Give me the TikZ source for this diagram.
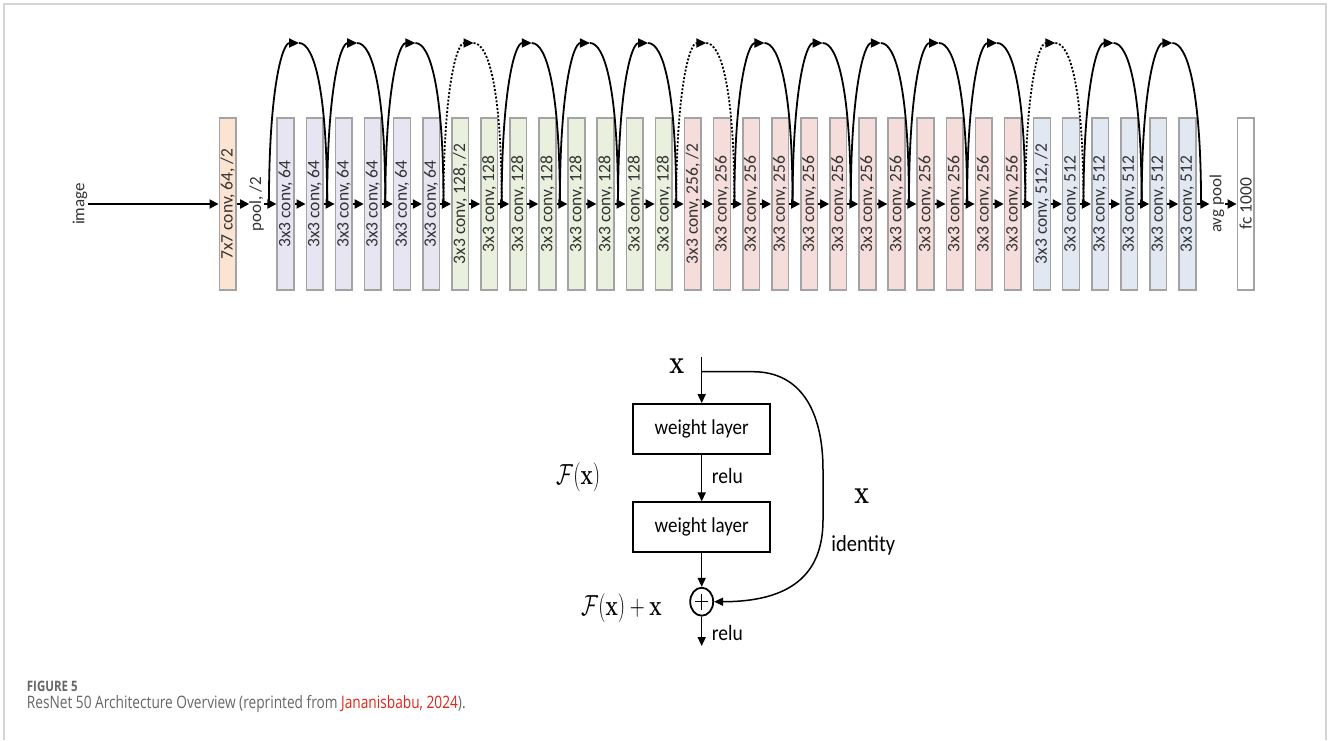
\documentclass[tikz,border=0pt]{standalone}
\usepackage[no-math]{fontspec}
\setmainfont{Carlito}
\newfontfamily\capfont{Open Sans}
\usetikzlibrary{arrows.meta,calc,shapes.geometric}
\definecolor{cseven}{HTML}{FBE4D2}
\definecolor{csixfour}{HTML}{E7E5F1}
\definecolor{conetwo}{HTML}{E9F0DD}
\definecolor{ctwofive}{HTML}{F4DDDB}
\definecolor{cfiveone}{HTML}{E2E8F2}
\definecolor{bord}{HTML}{A3A3A3}
\definecolor{txtg}{HTML}{333333}
\definecolor{framec}{HTML}{D4D4D4}
\definecolor{capgray}{HTML}{666666}
\definecolor{capred}{HTML}{E2231A}
\begin{document}
\begin{tikzpicture}[x=1pt,y=-1pt,
  blk/.style={draw=bord,line width=1.6pt,minimum width=16.7pt,minimum height=171.7pt,inner sep=0pt,text=txtg,font=\fontsize{17.5}{19}\selectfont},
  lbl/.style={inner sep=0pt,text=txtg,font=\fontsize{17}{19}\selectfont},
  arr/.style={line width=1.8pt,-{Triangle[length=9pt,width=9pt]}},
  skiparc/.style={line width=1.8pt},
  skipdot/.style={line width=1.8pt,dash pattern=on 2pt off 1.8pt},
  tiparc/.style={-{Triangle[length=10pt,width=9pt]}},
  wbox/.style={draw,line width=1.8pt,minimum width=136.7pt,minimum height=50pt,inner sep=0pt,font=\fontsize{19}{21}\selectfont},
  varr/.style={line width=1.5pt,-{Triangle[length=9pt,width=8pt]}},
  txt/.style={inner sep=0pt,font=\fontsize{19.5}{21}\selectfont},
  mth/.style={inner sep=0pt}
]
\useasboundingbox (0,0) rectangle (1330,740);
\fill[white] (0,0) rectangle (1330,740);
\draw[framec,line width=1.8pt] (4,740) -- (4,4) -- (1326,4) -- (1326,740);

% ---------- top network ----------
\node[lbl] (img) at (80,204) {\rotatebox{90}{image}};
\node[blk,fill=cseven] (c7) at (227.7,204) {\rotatebox{90}{7x7 conv, 64, /2}};
\node[lbl] (pool) at (256.7,204) {\rotatebox{90}{pool, /2}};

\node[blk,fill=csixfour] (b0) at (285.6,204) {\rotatebox{90}{3x3 conv, 64}};
\foreach \i in {1,...,5}
  \node[blk,fill=csixfour] (b\i) at ({285.6+29.09*\i},204) {\rotatebox{90}{3x3 conv, 64}};
\node[blk,fill=conetwo] (b6) at ({285.6+29.09*6},204) {\rotatebox{90}{3x3 conv, 128, /2}};
\foreach \i in {7,...,13}
  \node[blk,fill=conetwo] (b\i) at ({285.6+29.09*\i},204) {\rotatebox{90}{3x3 conv, 128}};
\node[blk,fill=ctwofive] (b14) at ({285.6+29.09*14},204) {\rotatebox{90}{3x3 conv, 256, /2}};
\foreach \i in {15,...,25}
  \node[blk,fill=ctwofive] (b\i) at ({285.6+29.09*\i},204) {\rotatebox{90}{3x3 conv, 256}};
\node[blk,fill=cfiveone] (b26) at ({285.6+29.09*26},204) {\rotatebox{90}{3x3 conv, 512, /2}};
\foreach \i in {27,...,31}
  \node[blk,fill=cfiveone] (b\i) at ({285.6+29.09*\i},204) {\rotatebox{90}{3x3 conv, 512}};

\node[lbl] (avg) at (1217,204) {\rotatebox{90}{avg pool}};
\node[blk,fill=white] (fc) at (1245.7,204) {\rotatebox{90}{fc 1000}};

\draw[arr] (img.east) -- (c7.west);
\draw[arr] (c7.east) -- (pool.west);
\draw[arr] (pool.east) -- (b0.west);
\foreach \i [evaluate=\i as \j using int(\i+1)] in {0,...,30}
  \draw[arr] (b\i.east) -- (b\j.west);
\draw[arr] (b31.east) -- (avg.west);
\draw[arr] (avg.east) -- (fc.west);

% skip connection anchor points
\foreach \i in {0,...,31}
  \coordinate (g\i) at ($(b\i.west)+(-7.5,0)$);
\coordinate (g32) at ($(b31.east)+(4.5,0)$);

\foreach \k/\st in {0/skiparc,1/skiparc,2/skiparc,3/skipdot,4/skiparc,5/skiparc,6/skiparc,7/skipdot,8/skiparc,9/skiparc,10/skiparc,11/skiparc,12/skiparc,13/skipdot,14/skiparc,15/skiparc}{
  \pgfmathtruncatemacro{\ga}{2*\k}
  \pgfmathtruncatemacro{\gb}{2*\k+2}
  \coordinate (t\k) at ($(g\ga)!0.5!(g\gb)+(1,-161)$);
  \draw[\st,tiparc] (g\ga) .. controls +(0,-114) and +(-17,0) .. (t\k);
  \draw[\st] (t\k) .. controls +(15,0) and +(0,-114) .. (g\gb);
}

% ---------- residual block ----------
\node[mth] (xin) at (676.7,366) {\scalebox{1}[1.33]{\fontsize{23}{23}\selectfont$\mathbf{x}$}};
\coordinate (p0) at (701.7,356.7);
\coordinate (br) at (701.7,371.7);
\node[wbox] (w1) at (701.7,429) {\scalebox{1}[1.12]{weight layer}};
\node[wbox] (w2) at (701.7,527.3) {\scalebox{1}[1.12]{weight layer}};
\node[ellipse,draw,line width=1.8pt,minimum width=23pt,minimum height=28pt,inner sep=0pt] (plus) at (701.7,601.7) {};
\draw[line width=1.4pt] ($(plus.center)+(-6.5,0)$) -- ($(plus.center)+(6.5,0)$);
\draw[line width=1.4pt] ($(plus.center)+(0,-8)$) -- ($(plus.center)+(0,8)$);
\coordinate (pend) at (701.7,646);

\draw[varr] (p0) -- (w1.north);
\draw[varr] (w1.south) -- (w2.north);
\draw[varr] (w2.south) -- (plus.north);
\draw[varr] (plus.south) -- (pend);
\draw[varr] (br) -- (753,371.7) .. controls (800,371.7) and (823,410) .. (823,470) -- (823,520) .. controls (823,575) and (790,601.7) .. (plus.east);

\node[txt,anchor=west] (relu1) at (711.7,476) {\scalebox{1}[1.12]{relu}};
\node[txt,anchor=west] (relu2) at (711.7,633) {\scalebox{1}[1.12]{relu}};
\node[mth] (fx) at (578.3,477) {\scalebox{1}[1.4]{\fontsize{22.5}{22.5}\selectfont$\mathcal{F}(\mathbf{x})$}};
\node[mth] (fxx) at (621.5,608) {\scalebox{1}[1.4]{\fontsize{22.5}{22.5}\selectfont$\mathcal{F}(\mathbf{x})+\mathbf{x}$}};
\node[mth] (xid) at (861.7,496) {\scalebox{1}[1.33]{\fontsize{23}{23}\selectfont$\mathbf{x}$}};
\node[txt,font=\fontsize{20.5}{22}\selectfont] (ident) at (863.3,545) {\scalebox{1}[1.12]{identity}};

% ---------- caption ----------
\node[anchor=base west,inner sep=0pt,text=capgray] (fig) at (26.7,691.7) {\scalebox{1}[1.25]{\capfont\bfseries\fontsize{11.5}{12}\selectfont FIGURE 5}};
\node[anchor=base west,inner sep=0pt,text=capgray] (cap) at (26.7,708.3) {\scalebox{1}[1.25]{\capfont\fontsize{13.7}{15}\selectfont ResNet 50 Architecture Overview (reprinted from \textcolor{capred}{Jananisbabu, 2024}).}};
\end{tikzpicture}
\end{document}
